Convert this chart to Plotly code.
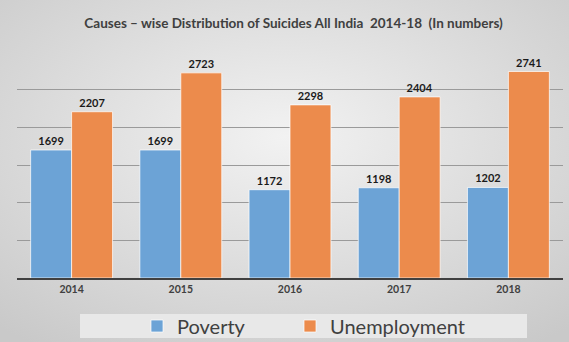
import base64
import plotly.graph_objects as go

years = ["2014", "2015", "2016", "2017", "2018"]
poverty = [1699, 1699, 1172, 1198, 1202]
unemployment = [2207, 2723, 2298, 2404, 2741]
series_names = ["Poverty", "Unemployment"]
title_text = "Causes \u2013 wise Distribution of Suicides All India \u00a02014-18 \u00a0(In numbers)"

W, H = 569, 342
ML, MR, MT, MB = 17, 6, 52, 64
PW, PH = W - ML - MR, H - MT - MB

svg = f'''<svg xmlns="http://www.w3.org/2000/svg" width="{W}" height="{H}">
<defs><radialGradient id="g" cx="50%" cy="40%" r="75%">
<stop offset="0%" stop-color="#F2F2F2"/><stop offset="100%" stop-color="#C9C9C9"/>
</radialGradient></defs>
<rect width="{W}" height="{H}" fill="url(#g)"/></svg>'''
bg_uri = "data:image/svg+xml;base64," + base64.b64encode(svg.encode()).decode()

fig = go.Figure()
fig.add_trace(go.Bar(
    x=years, y=poverty, name=series_names[0], legend="legend",
    marker=dict(color="#6CA3D6", line=dict(color="rgba(255,255,255,0.7)", width=1)),
    text=poverty, textposition="outside",
    textfont=dict(family="Lato", size=11, color="#1A1A1A", weight="bold"),
    cliponaxis=False,
))
fig.add_trace(go.Bar(
    x=years, y=unemployment, name=series_names[1], legend="legend2",
    marker=dict(color="#EC8B4C", line=dict(color="rgba(255,255,255,0.7)", width=1)),
    text=unemployment, textposition="outside",
    textfont=dict(family="Lato", size=11, color="#1A1A1A", weight="bold"),
    cliponaxis=False,
))

legend_common = dict(orientation="h", yanchor="middle", y=(278 - 326) / PH,
                     xanchor="left", bgcolor="rgba(0,0,0,0)",
                     font=dict(family="Lato", size=20, color="#404040"))

fig.update_layout(
    width=W, height=H,
    margin=dict(l=ML, r=MR, t=MT, b=MB, pad=0, autoexpand=False),
    paper_bgcolor="#DDDDDD",
    plot_bgcolor="rgba(0,0,0,0)",
    barmode="group", bargap=0.25, bargroupgap=0.0,
    title=dict(text=f"<b>{title_text}</b>", x=293.6 / W, xanchor="center",
               y=1 - 23 / H, yanchor="middle",
               font=dict(family="Lato", size=13.5, color="#404040")),
    font=dict(family="Lato", color="#404040"),
    showlegend=True,
    legend=dict(legend_common, x=(137 - ML) / PW),
    legend2=dict(legend_common, x=(290 - ML) / PW),
    xaxis=dict(showline=True, linecolor="#404040", linewidth=2,
               tickfont=dict(family="Lato", size=10.5, color="#404040", weight="bold"),
               showgrid=False, ticks="", fixedrange=True),
    yaxis=dict(range=[0, 3000], dtick=500, showticklabels=False, showgrid=True,
               gridcolor="#9A9A9A", gridwidth=1, zeroline=False, showline=False,
               fixedrange=True),
    images=[dict(source=bg_uri, xref="paper", yref="paper",
                 x=-ML / PW, y=1 + MT / PH, sizex=W / PW, sizey=H / PH,
                 xanchor="left", yanchor="top", sizing="stretch", layer="below")],
    shapes=[dict(type="rect", xref="paper", yref="paper",
                 x0=(80 - ML) / PW, x1=(527 - ML) / PW,
                 y0=(278 - 338) / PH, y1=(278 - 314) / PH,
                 fillcolor="#E8E8E8", line=dict(width=0), layer="below")],
)

fig.write_html("out.html")
